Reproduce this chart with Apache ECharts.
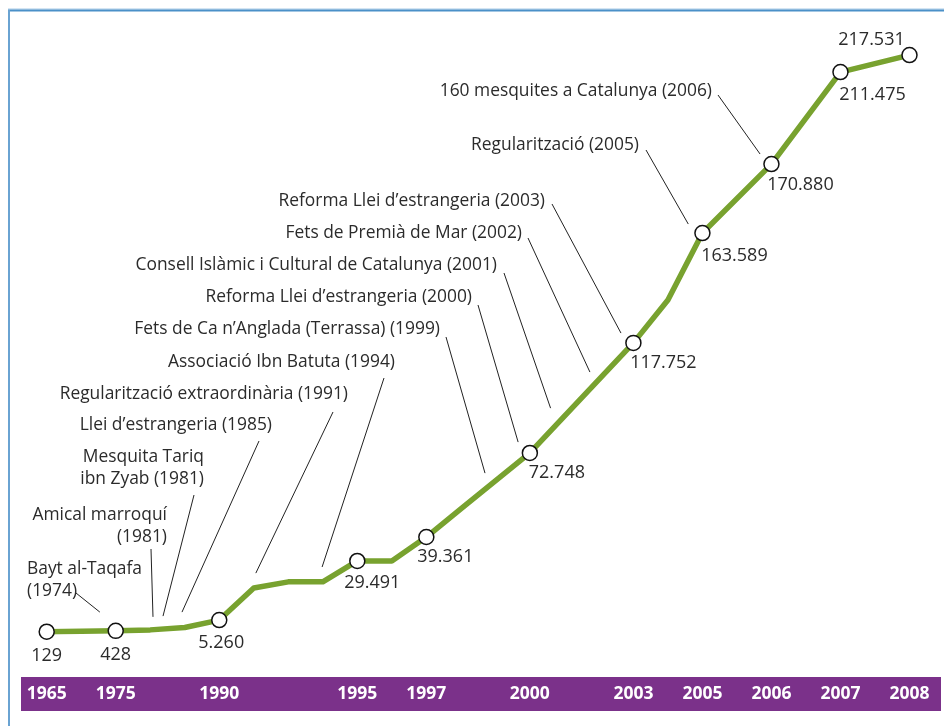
<!DOCTYPE html>
<html>
<head>
<meta charset="utf-8">
<style>
  html, body { margin: 0; padding: 0; background: #fff; }
  #container { width: 944px; height: 726px; }
</style>
<script src="https://cdn.jsdelivr.net/npm/echarts@6.0.0/dist/echarts.min.js"></script>
</head>
<body>
<div id="container"></div>
<script>
// anys de l'eix (posicio = tram de l'eix on cau cada any)
var anys    = ['1965', '1975', '1990', '1995', '1997', '2000', '2003', '2005', '2006', '2007', '2008'];
var posAnys = [0, 2, 5, 9, 11, 14, 17, 19, 21, 23, 25];

// xifres publicades (etiquetes dels punts)
var xifres = ['129', '428', '5.260', '29.491', '39.361', '72.748', '117.752', '163.589', '170.880', '211.475', '217.531'];

// traçat de la línia: tram de l'eix i nivell llegit del dibuix
var trams  = [0, 2, 3, 4, 5, 6, 7, 8, 9, 10, 11, 12, 14, 17, 18, 19, 21, 23, 25];
var nivell = [129, 428, 800, 1700, 4500, 16600, 18900, 18900, 26800, 26800, 35800, 46400, 67500, 109000, 125200, 150400, 176400, 211100, 217500];

// fets destacats
var fets = [
    'Bayt al-Taqafa\n(1974)',
    'Amical marroquí\n(1981)',
    'Mesquita Tariq\nibn Zyab (1981)',
    'Llei d\u2019estrangeria (1985)',
    'Regularització extraordinària (1991)',
    'Associació Ibn Batuta (1994)',
    'Fets de Ca n\u2019Anglada (Terrassa) (1999)',
    'Reforma Llei d\u2019estrangeria (2000)',
    'Consell Islàmic i Cultural de Catalunya (2001)',
    'Fets de Premià de Mar (2002)',
    'Reforma Llei d\u2019estrangeria (2003)',
    'Regularització (2005)',
    '160 mesquites a Catalunya (2006)'
];

(function(){
    var dom = document.getElementById("container");
    var myChart = echarts.init(dom, null, {renderer: 'canvas'});

    var verd = '#78a22f';
    var lila = '#7b318a';
    var gris = '#2b2b2b';
    var font = '"Open Sans", sans-serif';

    // punt on acaba cada línia guia [tram, nivell] i on comença (px, prop del text)
    var guiaFi  = [[1.54,7500],[3.08,5700],[3.37,6000],[3.92,7500],[6.06,22200],[7.98,24500],
                   [12.7,59900],[13.66,71600],[14.6,84400],[15.74,98000],[16.64,112700],[18.59,153800],[20.67,180200]];
    var guiaIni = [[76,593],[151,549],[194,495],[259,441],[333,412],[384,378],
                   [446,337],[478,305],[504,273],[528,238],[552,204],[646,150],[718,95]];
    // text dels fets: [x, y, align]
    var textPos = [[27,580,'left'],[167,526,'right'],[204,468,'right'],[272,425,'right'],[348,394,'right'],[395,362,'right'],
                   [440,329,'right'],[472,297,'right'],[497,265,'right'],[522,233,'right'],[545,201,'right'],[639,145,'right'],[712,91,'right']];
    // desplaçament de cada xifra respecte del seu punt
    var offs = [[0,24],[0,24],[2,23],[15,22],[19,20],[27,20],[30,20],[32,23],[29,21],[32,23],[-38,-15]];

    var lineData = [];
    for (var i = 0; i < trams.length; i++) {
        lineData.push([trams[i], nivell[i]]);
    }

    var pointData = [];
    for (var i = 0; i < posAnys.length; i++) {
        var k = trams.indexOf(posAnys[i]);
        pointData.push({
            value: [posAnys[i], nivell[k]],
            label: {offset: offs[i], formatter: xifres[i]}
        });
    }

    var guies = [];
    for (var i = 0; i < fets.length; i++) {
        guies.push([{x: guiaIni[i][0], y: guiaIni[i][1]}, {coord: guiaFi[i]}]);
    }

    var graphics = [
        {type: 'line', shape: {x1: 8, y1: 9, x2: 944, y2: 9}, style: {stroke: '#a9cbe6', lineWidth: 1}, z: 1},
        {type: 'line', shape: {x1: 8, y1: 10.5, x2: 944, y2: 10.5}, style: {stroke: '#4a90c8', lineWidth: 2}, z: 1},
        {type: 'line', shape: {x1: 9, y1: 10, x2: 9, y2: 726}, style: {stroke: '#6aa3d2', lineWidth: 2}, z: 1},
        {type: 'rect', shape: {x: 21, y: 677, width: 920, height: 34}, style: {fill: lila}, z: 1}
    ];
    for (var i = 0; i < fets.length; i++) {
        graphics.push({
            type: 'text', z: 10,
            style: {
                text: fets[i], x: textPos[i][0], y: textPos[i][1],
                align: textPos[i][2], verticalAlign: 'middle',
                font: '17.4px ' + font, fill: gris, lineHeight: 22
            }
        });
    }

    option = {
        animation: false,
        backgroundColor: '#fff',
        grid: {left: 46.7, right: 34.5, top: 48.45, bottom: 94},
        xAxis: {
            type: 'value', min: 0, max: 25, interval: 1,
            axisLine: {show: false}, axisTick: {show: false}, splitLine: {show: false},
            axisLabel: {
                margin: 52, lineHeight: 20,
                color: '#fff', fontSize: 17.5, fontWeight: 'bold', fontFamily: font,
                formatter: function (v) {
                    var k = posAnys.indexOf(v);
                    return k >= 0 ? anys[k] : '';
                }
            },
            z: 5
        },
        yAxis: {
            type: 'value', min: 0, max: 220000, show: false
        },
        graphic: graphics,
        series: [
            {
                type: 'line',
                data: lineData,
                symbol: 'none',
                lineStyle: {color: verd, width: 5.5, join: 'round'},
                z: 3,
                markLine: {
                    silent: true,
                    symbol: ['none', 'none'],
                    label: {show: false},
                    lineStyle: {color: '#222', width: 1, type: 'solid'},
                    data: guies
                }
            },
            {
                type: 'scatter',
                data: pointData,
                symbol: 'circle',
                symbolSize: 15,
                itemStyle: {color: '#fff', borderColor: '#111', borderWidth: 1.5, opacity: 1},
                label: {
                    show: true, position: 'inside',
                    color: gris, fontSize: 18, fontFamily: font
                },
                z: 4
            }
        ]
    };

    myChart.setOption(option, true);
})();
</script>
</body>
</html>
